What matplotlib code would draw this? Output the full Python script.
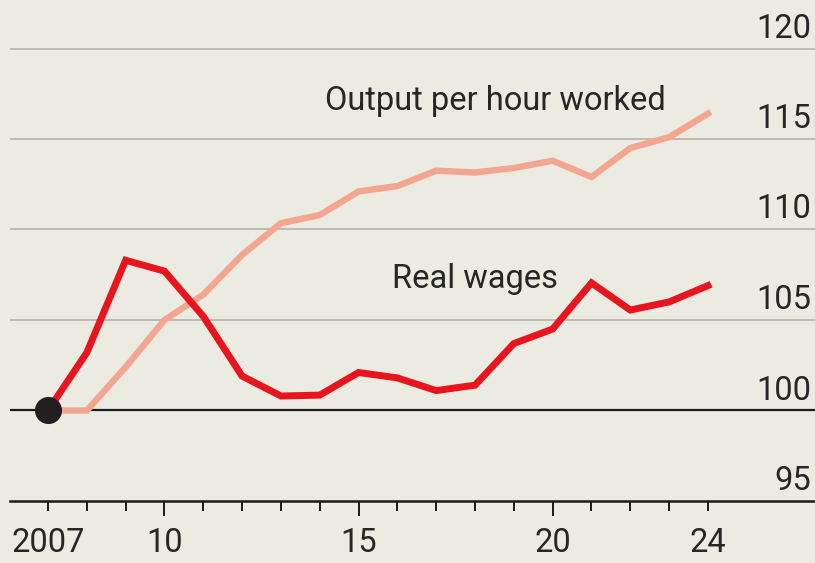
import matplotlib
matplotlib.use("Agg")
import matplotlib.pyplot as plt

years = list(range(2007, 2025))
real_wages = [100.0, 103.2, 108.3, 107.7, 105.2, 101.9, 100.8, 100.85, 102.1, 101.8,
              101.1, 101.4, 103.7, 104.5, 107.05, 105.55, 106.0, 106.9]
output_per_hour = [100.0, 100.0, 102.4, 105.0, 106.4, 108.6, 110.35, 110.8, 112.1, 112.4,
                   113.25, 113.15, 113.4, 113.8, 112.9, 114.5, 115.1, 116.4]
y_ticks = [95, 100, 105, 110, 115, 120]
x_label_years = [2007, 2010, 2015, 2020, 2024]
x_label_text = ["2007", "10", "15", "20", "24"]

BG = "#EBEBE1"
RED = "#E8141E"
SALMON = "#F5A690"
TXT = "#262626"
plt.rcParams['font.family'] = ['Roboto', 'DejaVu Sans']

fig = plt.figure(figsize=(8.15, 5.63), dpi=100, facecolor=BG)
ax = fig.add_axes([10/815, 1 - 501/563, 1 - 10/815, 501/563])
ax.set_facecolor(BG)
ax.set_xlim(2007 + (10 - 48) / 38.82, 2007 + (815 - 48) / 38.82)
ax.set_ylim(95, 95 + 501 / 18.1)

for s in ["top", "right", "left"]:
    ax.spines[s].set_visible(False)
ax.spines["bottom"].set_color("#1a1a1a")
ax.spines["bottom"].set_linewidth(1.8)

for v in y_ticks[1:]:
    if v == 100:
        continue
    ax.axhline(v, color="#B8B8B0", lw=1.3, zorder=1)
ax.axhline(100, color="#1a1a1a", lw=1.6, zorder=2)

for v in y_ticks:
    ax.annotate(str(v), xy=(1, v), xycoords=("axes fraction", "data"),
                xytext=(-4, 11), textcoords="offset pixels",
                ha="right", va="baseline", fontsize=23.5, color=TXT)

ax.set_yticks([])
ax.set_xticks(years, minor=True)
ax.set_xticks(x_label_years)
ax.set_xticklabels(x_label_text, fontsize=23.5, color=TXT)
ax.tick_params(axis="x", which="major", length=11, width=1.4, color="#1a1a1a", pad=8)
ax.tick_params(axis="x", which="minor", length=7.2, width=1.4, color="#1a1a1a")
for t in ax.xaxis.get_major_ticks():
    if t.get_loc() in (2007, 2024):
        t.tick1line.set_markersize(7.2)

ax.plot(years, output_per_hour, color=SALMON, lw=4.6, zorder=3, solid_joinstyle="miter")
ax.plot(years, real_wages, color=RED, lw=5.0, zorder=4, solid_joinstyle="miter")
ax.plot([years[0]], [100], "o", color="#231F20", markersize=18.5, zorder=5)

ax.text(2014.14, 116.6, "Output per hour worked", fontsize=23.5, color=TXT, ha="left", va="baseline")
ax.text(2015.86, 106.77, "Real wages", fontsize=23.5, color=TXT, ha="left", va="baseline")

fig.savefig("out.png", dpi=100, facecolor=BG)
